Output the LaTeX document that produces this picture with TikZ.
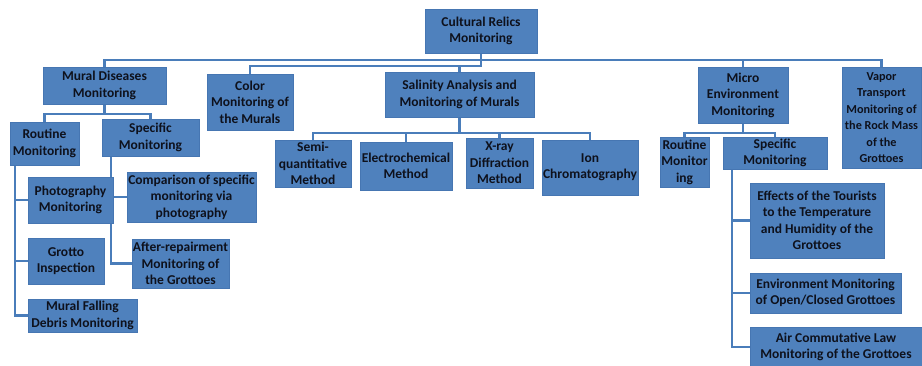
\documentclass[tikz,border=0pt]{standalone}
\usepackage{fontspec}
\setmainfont{Carlito}
\usepackage{xcolor}
\usepackage{tikz}
\usetikzlibrary{backgrounds,calc}
\definecolor{boxblue}{HTML}{4F81BD}
\definecolor{boxedge}{HTML}{4676B2}
\definecolor{linkblue}{HTML}{4A7DBA}
\definecolor{boxtext}{HTML}{0E111C}
\tikzset{
    box/.style={draw=boxedge, line width=0.6pt, fill=boxblue, text=boxtext, align=center, inner sep=1pt,
        font=\fontsize{13.5}{16.5}\selectfont\bfseries},
    link/.style={draw=linkblue, line width=2.2pt}
}

\begin{document}
\begin{tikzpicture}[x=1pt, y=-1pt]
    \useasboundingbox (0,0) rectangle (922,365);

    % Root
    \node[box, minimum width=112pt, minimum height=44pt] (root) at (481,31) {Cultural Relics\\Monitoring};

    % First level
    \node[box, minimum width=123pt, minimum height=37pt] (mural) at (104.5,85.5) {Mural Diseases\\Monitoring};
    \node[box, minimum width=86pt, minimum height=56pt] (color) at (250,102) {Color\\Monitoring of\\the Murals};
    \node[box, minimum width=149pt, minimum height=45pt] (salinity) at (459.5,94.5) {Salinity Analysis and\\Monitoring of Murals};
    \node[box, minimum width=90pt, minimum height=56pt] (micro) at (743,95) {Micro\\Environment\\Monitoring};
    \node[box, minimum width=79pt, minimum height=101pt, font=\fontsize{12.2}{16.5}\selectfont\bfseries] (vapor) at (881.5,117.5) {Vapor\\Transport\\Monitoring of\\the Rock Mass\\of the\\Grottoes};

    % Mural diseases branch
    \node[box, minimum width=69pt, minimum height=43pt] (routineA) at (44.5,143.5) {Routine\\Monitoring};
    \node[box, minimum width=97pt, minimum height=37pt] (specificA) at (150.5,137.5) {Specific\\Monitoring};
    \node[box, minimum width=85pt, minimum height=46pt] (photo) at (70.5,200) {Photography\\Monitoring};
    \node[box, minimum width=76pt, minimum height=46pt] (grotto) at (66,261) {Grotto\\Inspection};
    \node[box, minimum width=109pt, minimum height=33pt] (debris) at (82.5,315.5) {Mural Falling\\Debris Monitoring};
    \node[box, minimum width=129pt, minimum height=50pt] (compare) at (191.5,197) {Comparison of specific\\monitoring via\\photography};
    \node[box, minimum width=97pt, minimum height=49pt] (after) at (180.5,263.5) {After-repairment\\Monitoring of\\the Grottoes};

    % Salinity branch
    \node[box, minimum width=76pt, minimum height=47pt] (semi) at (313,163.5) {Semi-\\quantitative\\Method};
    \node[box, minimum width=92pt, minimum height=48pt] (electro) at (406,166) {Electrochemical\\Method};
    \node[box, minimum width=67pt, minimum height=50pt] (xray) at (499.5,163) {X-ray\\Diffraction\\Method};
    \node[box, minimum width=96pt, minimum height=55pt] (ion) at (590,167.5) {Ion\\Chromatography};

    % Micro environment branch
    \node[box, minimum width=49pt, minimum height=50pt] (routineB) at (684.5,162) {Routine\\Monitor\\ing};
    \node[box, minimum width=104pt, minimum height=32pt] (specificB) at (775,153) {Specific\\Monitoring};
    \node[box, minimum width=134pt, minimum height=75pt] (effects) at (817,220.5) {Effects of the Tourists\\to the Temperature\\and Humidity of the\\Grottoes};
    \node[box, minimum width=151pt, minimum height=40pt] (openclosed) at (825.5,293) {Environment Monitoring\\of Open/Closed Grottoes};
    \node[box, minimum width=172pt, minimum height=40pt] (air) at (836,347) {Air Commutative Law\\Monitoring of the Grottoes};

    % Connectors
    \begin{scope}[on background layer]
        \draw[link] (root.south) -- ++(0,7) coordinate (jRoot);
        \draw[link] (mural.north) |- (jRoot) -| (vapor.north);
        \draw[link] (micro.north) -- (micro.north |- jRoot);
        \draw[link] (color.north) -- ++(0,-8) coordinate (jColor) -| (jRoot);
        \draw[link] (salinity.north) -- (salinity.north |- jColor);

        \draw[link] (mural.south) -- ++(0,10) coordinate (jMural);
        \draw[link] (routineA.north) |- (jMural) -| (specificA.north);
        \draw[link] ($(routineA.south west)+(5,0)$) |- (photo.west);
        \draw[link] ($(routineA.south west)+(5,0)$) |- (grotto.west);
        \draw[link] ($(routineA.south west)+(5,0)$) |- (debris.west);
        \draw[link] ($(specificA.south west)+(9,0)$) |- (compare.west);
        \draw[link] ($(specificA.south west)+(9,0)$) |- (after.west);

        \draw[link] (salinity.south) -- ++(0,16) coordinate (jSal);
        \draw[link] (semi.north) |- (jSal) -| (ion.north);
        \draw[link] (electro.north) -- (electro.north |- jSal);
        \draw[link] (xray.north) -- (xray.north |- jSal);

        \draw[link] (micro.south) -- ++(0,10) coordinate (jMicro);
        \draw[link] (routineB.north) |- (jMicro) -| (specificB.north);
        \draw[link] ($(specificB.south west)+(9,0)$) |- (effects.west);
        \draw[link] ($(specificB.south west)+(9,0)$) |- (openclosed.west);
        \draw[link] ($(specificB.south west)+(9,0)$) |- (air.west);
    \end{scope}
\end{tikzpicture}
\end{document}
